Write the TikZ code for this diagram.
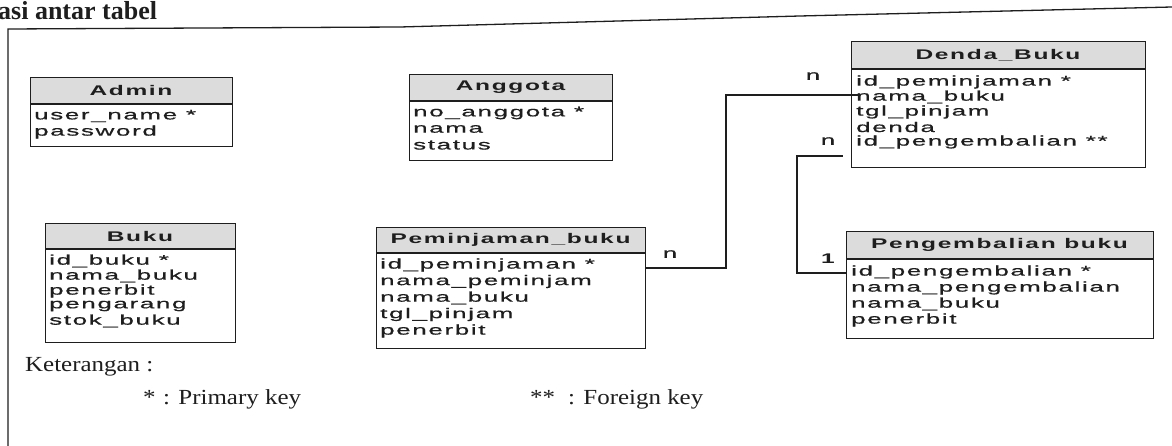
\documentclass[tikz,border=0pt]{standalone}
\usepackage{fontspec}
\setmainfont{Liberation Serif}
\newfontfamily\tabfont[FakeStretch=1.85,LetterSpace=12,FakeBold=0.6]{Liberation Sans}
\newfontfamily\tabboldfont[FakeStretch=1.75,LetterSpace=12]{Liberation Sans Bold}
\newfontfamily\notefont[FakeStretch=1.16]{Liberation Serif}
\definecolor{ink}{HTML}{1E1E1E}
\definecolor{hdrgray}{HTML}{DCDCDC}

\tikzset{
  tbl/.style={draw=ink, line width=1.3pt, inner sep=0pt, anchor=north west},
  rowtext/.style={anchor=west, inner sep=0pt, text=ink, font=\tabfont\fontsize{14}{16}\selectfont},
  hdrtext/.style={inner sep=0pt, text=ink, font=\tabboldfont\fontsize{14}{16}\selectfont},
  conn/.style={draw=ink, line width=1.1pt},
  card/.style={inner sep=0pt, text=ink, font=\tabfont\fontsize{14}{16}\selectfont},
  note/.style={inner sep=0pt, anchor=base west, text=ink, font=\notefont\fontsize{21.5}{24}\selectfont},
  frameline/.style={draw=ink, line width=1.3pt},
}

% table: name, x1, y1, x2, y2, header bottom, title
\newcommand\erdtable[7]{%
  \fill[hdrgray] (#2,#3) rectangle (#4,#6);
  \node[tbl, minimum width={(#4-#2)*1pt}, minimum height={(#5-#3)*1pt}] (#1) at (#2,#3) {};
  \draw[ink, line width=1.1pt] (#2,#6) -- (#4,#6);
  \node[hdrtext] (#1-title) at ({(#2+#4)/2},{(#3+#6)/2}) {#7};
}
% rows: name, text x, list of text/y
\newcommand\erdrows[3]{%
  \foreach \t/\yy [count=\i] in {#3} {\node[rowtext] (#1-r\i) at (#2,\yy) {\t};}
}

\begin{document}
\begin{tikzpicture}[x=1pt, y=-1pt]
\useasboundingbox[fill=white] (0,0) rectangle (1172,446);

% page frame
\draw[frameline] (8,446) -- (8,29) -- (400,27) -- (800,16) -- (1172,7);

% heading
\node[inner sep=0pt, anchor=base west, text=ink, font=\bfseries\fontsize{26}{30}\selectfont] (heading) at (-2,20) {asi antar tabel};

% tables
\erdtable{admin}{30}{77}{232}{146}{104}{Admin}
\erdrows{admin}{34}{user\_name */116, password/132}

\erdtable{anggota}{409}{74}{612}{160}{101}{Anggota}
\erdrows{anggota}{413}{no\_anggota */113, nama/129, status/145}

\erdtable{denda}{851}{41}{1145}{167}{69}{Denda\_Buku}
\erdrows{denda}{856}{id\_peminjaman */82, nama\_buku/97, tgl\_pinjam/112, denda/127, id\_pengembalian **/142}

\erdtable{buku}{45}{223}{235}{342}{249}{Buku}
\erdrows{buku}{49}{id\_buku */261, nama\_buku/276, penerbit/291, pengarang/306, stok\_buku/321}

\erdtable{pem}{376}{227}{645}{348}{253}{Peminjaman\_buku}
\erdrows{pem}{380}{id\_peminjaman */265, nama\_peminjam/281.5, nama\_buku/298, tgl\_pinjam/314.5, penerbit/331}

\erdtable{pgb}{846}{231}{1153}{338}{259}{Pengembalian buku}
\erdrows{pgb}{851}{id\_pengembalian */272, nama\_pengembalian/288, nama\_buku/304, penerbit/320}

% relations
\coordinate (pemOut) at (645,268);
\coordinate (bendA) at (726,95);
\coordinate (dendaIn) at (860,95);
\draw[conn] (pemOut) -| (bendA) -- (dendaIn);
\node[card] (cardA1) at (670,254) {n};
\node[card] (cardA2) at (813,76) {n};

\coordinate (pgbIn) at (846,273);
\coordinate (bendB) at (797,156);
\coordinate (dendaFk) at (843,156);
\draw[conn] (pgbIn) -| (bendB) -- (dendaFk);
\node[card] (cardB1) at (828,141) {n};
\node[card, font=\tabboldfont\fontsize{14}{16}\selectfont] (cardB2) at (828,259) {1};

% legend
\node[note] (legend) at (25,371) {Keterangan :};
\node[note] (pkStar) at (143,404) {*};
\node[note] (pkText) at (163,404) {: Primary key};
\node[note] (fkStar) at (530,404) {**};
\node[note] (fkText) at (568,404) {: Foreign key};
\end{tikzpicture}
\end{document}
